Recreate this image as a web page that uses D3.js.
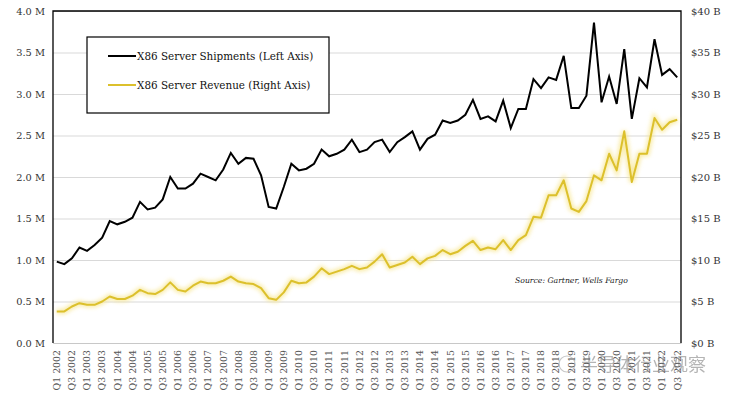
<!DOCTYPE html>
<html>
<head>
<meta charset="utf-8">
<script src="https://cdn.jsdelivr.net/npm/d3@7"></script>
<style>
  body { margin: 0; background: #fff; }
  svg text { font-family: "DejaVu Serif", serif; }
</style>
</head>
<body>
<div id="chart"></div>
<script>
// quarters Q1 2002 .. Q3 2022
const years = d3.range(2002, 2023);
const quarters = [];
years.forEach(y => ["Q1", "Q2", "Q3", "Q4"].forEach(q => quarters.push(q + " " + y)));
quarters.splice(quarters.indexOf("Q3 2022") + 1);

// X86 server shipments, millions (left axis)
const shipments = [
  0.98, 0.95, 1.02, 1.15, 1.11, 1.18, 1.27, 1.47, 1.43, 1.46, 1.51, 1.70, 1.61, 1.63, 1.73,
  2.00, 1.86, 1.86, 1.92, 2.04, 2.00, 1.96, 2.09, 2.29, 2.16, 2.23, 2.22, 2.02, 1.64,
  1.62, 1.88, 2.16, 2.08, 2.10, 2.16, 2.33, 2.25, 2.28, 2.33, 2.45, 2.30, 2.33, 2.42, 2.45,
  2.30, 2.42, 2.48, 2.55, 2.33, 2.46, 2.51, 2.68, 2.65, 2.68, 2.75, 2.93, 2.70,
  2.73, 2.67, 2.92, 2.59, 2.82, 2.82, 3.18, 3.07, 3.20, 3.17, 3.46, 2.83, 2.83, 2.98, 3.86,
  2.90, 3.21, 2.88, 3.54, 2.70, 3.19, 3.08, 3.66, 3.23, 3.30, 3.20
];

// X86 server revenue, $ billions (right axis)
const revenue = [
  3.8, 3.8, 4.4, 4.8, 4.6, 4.6, 5.0, 5.6, 5.3, 5.3, 5.7, 6.4, 6.0, 5.9, 6.4,
  7.3, 6.4, 6.2, 6.9, 7.4, 7.2, 7.2, 7.5, 8.0, 7.4, 7.2, 7.1, 6.6, 5.4,
  5.2, 6.1, 7.5, 7.2, 7.3, 8.0, 9.0, 8.3, 8.6, 8.9, 9.3, 8.9, 9.1, 9.8, 10.7,
  9.1, 9.4, 9.7, 10.4, 9.5, 10.2, 10.5, 11.2, 10.7, 11.0,
  11.7, 12.3, 11.2, 11.5, 11.3, 12.4, 11.2, 12.4, 13.0, 15.2, 15.1, 17.8, 17.8, 19.6, 16.2,
  15.8, 17.1, 20.2, 19.6, 22.8, 20.8, 25.5, 19.4, 22.8, 22.8, 27.1, 25.7, 26.6, 26.9
];

const leftTicks = [0, 0.5, 1, 1.5, 2, 2.5, 3, 3.5, 4];
const rightTicks = [0, 5, 10, 15, 20, 25, 30, 35, 40];
const seriesNames = ["X86 Server Shipments (Left Axis)", "X86 Server Revenue (Right Axis)"];
const colors = ["#000000", "#dcc02c"];
const serif = "DejaVu Serif, serif";

const width = 729, height = 397;
const margin = {top: 11, right: 48, bottom: 54, left: 53};

const svg = d3.select("#chart").append("svg")
  .attr("width", width)
  .attr("height", height);

svg.append("rect").attr("width", width).attr("height", height).attr("fill", "#fff");

const x = d3.scaleBand()
  .domain(quarters)
  .range([margin.left, width - margin.right])
  .padding(0);

const yL = d3.scaleLinear().domain([0, 4]).range([height - margin.bottom, margin.top]);
const yR = d3.scaleLinear().domain([0, 40]).range([height - margin.bottom, margin.top]);

const defs = svg.append("defs");
defs.append("filter").attr("id", "glow")
  .attr("x", "-5%").attr("y", "-20%").attr("width", "110%").attr("height", "140%")
  .append("feGaussianBlur").attr("stdDeviation", 2);

// gridlines + left labels
const left = svg.append("g")
  .attr("transform", "translate(" + margin.left + ",0)")
  .call(d3.axisLeft(yL).tickValues(leftTicks)
    .tickSize(-(width - margin.left - margin.right))
    .tickPadding(8)
    .tickFormat(d => d.toFixed(1) + " M"));
left.select(".domain").remove();
left.selectAll(".tick line").attr("stroke", "#d9d9d9");
left.selectAll(".tick text").attr("font-size", 9.8).attr("fill", "#333")
  .style("font-family", serif);

// right labels
const right = svg.append("g")
  .attr("transform", "translate(" + (width - margin.right) + ",0)")
  .call(d3.axisRight(yR).tickValues(rightTicks).tickSize(0).tickPadding(10)
    .tickFormat(d => "$" + d + " B"));
right.select(".domain").remove();
right.selectAll(".tick text").attr("font-size", 10).attr("fill", "#333")
  .style("font-family", serif);

// bottom axis
const bottom = svg.append("g")
  .attr("transform", "translate(0," + (height - margin.bottom) + ")")
  .call(d3.axisBottom(x).tickValues(quarters.filter((d, i) => i % 2 === 0)).tickSize(0));
bottom.select(".domain").attr("stroke", "#c8c8c8");
bottom.selectAll(".tick text")
  .attr("font-size", 9.4).attr("fill", "#555")
  .style("font-family", serif)
  .attr("text-anchor", "end")
  .attr("transform", "rotate(-90)")
  .attr("x", -7).attr("y", 0).attr("dy", "0.35em");

// frame: top, left and right
const x0 = margin.left, x1 = width - margin.right, yt = margin.top, yb = height - margin.bottom;
svg.append("path")
  .attr("d", "M" + x0 + "," + yb + "V" + yt + "H" + x1 + "V" + yb)
  .attr("fill", "none").attr("stroke", "#000").attr("stroke-width", 1.3);

const cx = (d, i) => x(quarters[i]) + x.bandwidth() / 2;

const revLine = d3.line().x(cx).y(d => yR(d));
svg.append("path").datum(revenue)
  .attr("d", revLine).attr("fill", "none")
  .attr("stroke", "#f7e58a").attr("stroke-width", 5).attr("opacity", 0.8)
  .attr("filter", "url(#glow)");
svg.append("path").datum(revenue)
  .attr("d", revLine).attr("fill", "none")
  .attr("stroke", colors[1]).attr("stroke-width", 2).attr("stroke-linejoin", "round");

svg.append("path").datum(shipments)
  .attr("d", d3.line().x(cx).y(d => yL(d)))
  .attr("fill", "none").attr("stroke", colors[0])
  .attr("stroke-width", 2).attr("stroke-linejoin", "miter");

// legend
const lg = svg.append("g").attr("transform", "translate(87,37)");
lg.append("rect").attr("width", 242).attr("height", 76)
  .attr("fill", "#fff").attr("stroke", "#000").attr("stroke-width", 1.2);
const items = lg.selectAll(".item").data(seriesNames).enter().append("g")
  .attr("transform", (d, i) => "translate(21," + (19 + i * 29) + ")");
items.append("line").attr("x1", 0).attr("x2", 28)
  .attr("stroke", (d, i) => colors[i]).attr("stroke-width", 2);
items.append("text").attr("x", 29).attr("dy", "0.35em")
  .attr("font-size", 10.4).attr("fill", "#111").text(d => d);

// source note
svg.append("text").attr("x", 515).attr("y", 283)
  .attr("font-size", 7.7).attr("font-style", "italic").attr("fill", "#222")
  .text("Source: Gartner, Wells Fargo");

// watermark
const wm = svg.append("g").attr("opacity", 0.55);
wm.append("circle").attr("cx", 567).attr("cy", 364).attr("r", 8)
  .attr("fill", "none").attr("stroke", "#999").attr("stroke-width", 1.2);
wm.append("text").attr("x", 580).attr("y", 371)
  .attr("font-size", 18).attr("fill", "#777")
  .style("font-family", "Noto Sans CJK SC, sans-serif")
  .text("半导体行业观察");
</script>
</body>
</html>
